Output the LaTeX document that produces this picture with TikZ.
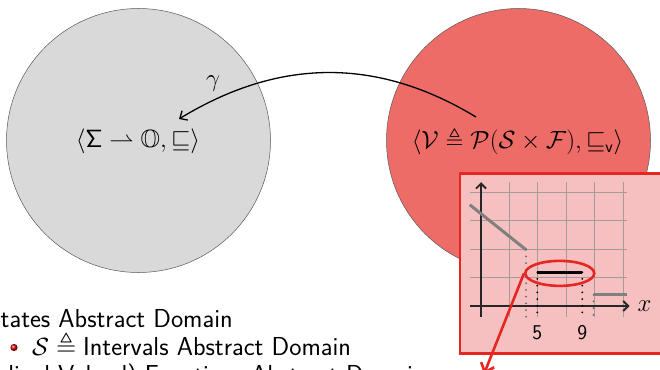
\documentclass[tikz,border=0pt]{standalone}
\usepackage{amsmath,amssymb}
\usetikzlibrary{shadings,shapes.geometric,arrows.meta}
\definecolor{circgray}{RGB}{217,217,217}
\definecolor{circred}{RGB}{237,108,104}
\definecolor{boxfill}{RGB}{247,192,192}
\definecolor{boxred}{RGB}{229,38,33}
\definecolor{gridgray}{RGB}{165,155,155}
\definecolor{piecegray}{RGB}{128,128,128}
\tikzset{
  domcirc/.style={circle, minimum size=264pt, inner sep=0pt, draw=black!65, line width=0.5pt},
  mathlbl/.style={font=\fontsize{23}{28}\selectfont},
  txt/.style={font=\fontsize{26}{30}\selectfont\sffamily, inner sep=0pt},
  dots/.style={line width=2pt, line cap=round, dash pattern=on 0pt off 6.7pt},
}
\begin{document}
\begin{tikzpicture}[x=1pt,y=-1pt]
\useasboundingbox (0,0) rectangle (660,369);
% domains
\node[domcirc, fill=circgray] (gc) at (138.5,140.5) {};
\node[domcirc, fill=circred] (rc) at (518.5,140.5) {};
\node[font=\fontsize{25}{30}\selectfont] (gl) at (138,141) {$\langle \mathsf{\Sigma} \rightharpoonup \mathbb{O}, \sqsubseteq\rangle$};
\node[mathlbl] (rl) at (517.5,141) {$\langle \mathcal{V} \triangleq \mathcal{P}(\mathcal{S}\times\mathcal{F}), \sqsubseteq_{\mathsf{v}}\rangle$};
% gamma arrow
\coordinate (gs) at (476,117);
\coordinate (ge) at (179,119);
\draw[-{Straight Barb[length=6pt,width=11pt]}, line width=1.3pt] (gs) .. controls (377,57) and (279,58) .. (ge);
\node[mathlbl] (gamma) at (213,84) {$\gamma$};
% box
\node[draw=boxred, fill=boxfill, line width=2.6pt, minimum width=215pt, minimum height=180pt, anchor=north west, inner sep=0pt] (box) at (458.5,172) {};
% graph
\begin{scope}[shift={(481,306)}, x=22.5pt, y=22.5pt]
  \draw[gridgray, line width=0.9pt] (-0.5,-0.5) grid (6.5,5.5);
  \draw[black!85, line width=1.8pt, -{Straight Barb[length=5pt,width=10pt]}] (0,-0.5) coordinate (ya0) -- (0,5.5) coordinate (ya1);
  \draw[black!85, line width=1.8pt, -{Straight Barb[length=5pt,width=10pt]}] (-0.5,0) coordinate (xa0) -- (6.6,0) coordinate (xa1);
  \node[mathlbl, anchor=west, inner sep=0pt] (xl) at (6.95,0) {$x$};
  \draw[piecegray, line width=3pt] (-0.5,4.5) coordinate (p1a) -- (2,2.5) coordinate (p1b);
  \draw[black, line width=3pt] (2.5,1.5) coordinate (p2a) -- (4.5,1.5) coordinate (p2b);
  \draw[piecegray, line width=3pt] (5,0.5) coordinate (p3a) -- (6.5,0.5) coordinate (p3b);
  \draw[dots, black!60] (2,2.5) -- (2,-0.5);
  \draw[dots, black] (2.5,1.5) -- (2.5,-0.5);
  \draw[dots, black] (4.5,1.5) -- (4.5,-0.5);
  \draw[dots, black!60] (5,0.5) -- (5,-0.5);
  \node[font=\fontsize{21}{24}\sffamily] (l5) at (2.5,-1.2) {5};
  \node[font=\fontsize{21}{24}\sffamily] (l9) at (4.5,-1.2) {9};
  \node[draw=boxred, line width=2.6pt, ellipse, minimum width=69pt, minimum height=25pt, inner sep=0pt] (ell) at (3.5,1.45) {};
\end{scope}
\coordinate (rt) at (484,374);
\draw[boxred, line width=2.6pt, -{Straight Barb[length=8pt,width=14pt]}] (ell.west) -- (rt);
% bottom text
\node[txt, anchor=base west] (t1) at (0.5,327) {\llap{S}tates Abstract Domain};
\shade[ball color=red!80!black] (14,347.5) circle (3.6pt);
\node[txt, anchor=base west] (t2) at (32,355) {$\mathcal{S}\triangleq{}$Intervals Abstract Domain};
\node[txt, anchor=base west] (t3) at (58,383) {\llap{(Ordinal\ }Valued) Functions Abstract Domain};
\end{tikzpicture}
\end{document}
